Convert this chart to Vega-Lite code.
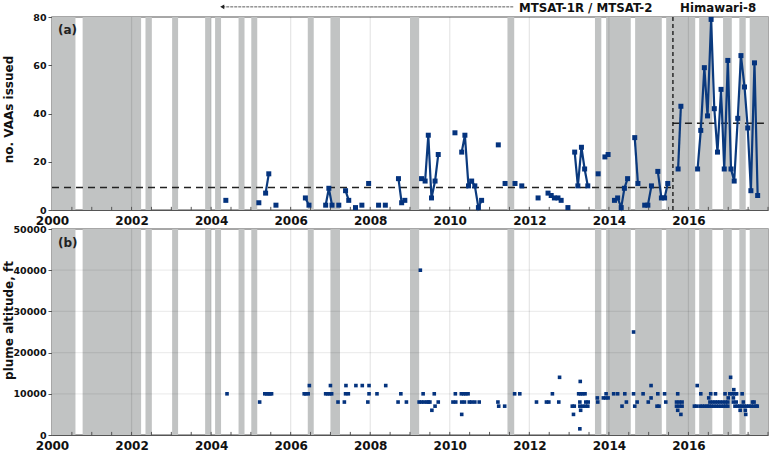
{
  "$schema": "https://vega.github.io/schema/vega-lite/v6.json",
  "background": "white",
  "padding": {"left": 1, "top": 2, "right": 2, "bottom": 0},
  "bounds": "flush",
  "spacing": 19,
  "config": {
    "font": "DejaVu Sans",
    "view": {"stroke": "#8a8a8a", "strokeWidth": 1.5},
    "axis": {
      "grid": false,
      "labelFont": "DejaVu Sans", "labelFontWeight": "bold", "labelColor": "#111", "labelFontSize": 9.5,
      "titleFont": "DejaVu Sans", "titleFontWeight": "bold", "titleColor": "#111", "titleFontSize": 12,
      "domainColor": "#555", "tickColor": "#555"
    }
  },
  "datasets": {
    "bands": [
      {"start": 2000.0, "end": 2000.59}, {"start": 2000.77, "end": 2002.24}, {"start": 2002.35, "end": 2002.51},
      {"start": 2003.02, "end": 2003.17}, {"start": 2003.85, "end": 2004.0}, {"start": 2004.1, "end": 2004.25},
      {"start": 2004.69, "end": 2004.84}, {"start": 2005.01, "end": 2005.16}, {"start": 2006.43, "end": 2006.58},
      {"start": 2007.0, "end": 2007.24}, {"start": 2009.0, "end": 2009.23}, {"start": 2011.45, "end": 2011.62},
      {"start": 2013.65, "end": 2013.81}, {"start": 2013.93, "end": 2014.55}, {"start": 2014.66, "end": 2015.33},
      {"start": 2015.44, "end": 2016.17}, {"start": 2016.27, "end": 2016.6}, {"start": 2016.87, "end": 2017.09},
      {"start": 2017.28, "end": 2017.44}, {"start": 2017.54, "end": 2018.0}
    ],
    "gridYears": [
      {"year": 2002}, {"year": 2004}, {"year": 2006}, {"year": 2008}, {"year": 2010}, {"year": 2012}, {"year": 2014}, {"year": 2016}
    ],
    "gridFt": [{"ft": 10000}, {"ft": 20000}, {"ft": 30000}, {"ft": 40000}],
    "tickYears": [
      {"year": 2000.5}, {"year": 2001}, {"year": 2001.5}, {"year": 2002}, {"year": 2002.5}, {"year": 2003}, {"year": 2003.5},
      {"year": 2004}, {"year": 2004.5}, {"year": 2005}, {"year": 2005.5}, {"year": 2006}, {"year": 2006.5}, {"year": 2007},
      {"year": 2007.5}, {"year": 2008}, {"year": 2008.5}, {"year": 2009}, {"year": 2009.5}, {"year": 2010}, {"year": 2010.5},
      {"year": 2011}, {"year": 2011.5}, {"year": 2012}, {"year": 2012.5}, {"year": 2013}, {"year": 2013.5}, {"year": 2014},
      {"year": 2014.5}, {"year": 2015}, {"year": 2015.5}, {"year": 2016}, {"year": 2016.5}, {"year": 2017}, {"year": 2017.5}, {"year": 2018}
    ],
    "vaas": [
      {"year": 2004.37, "vaas": 4, "seg": 1},
      {"year": 2005.2, "vaas": 3, "seg": 2},
      {"year": 2005.37, "vaas": 7, "seg": 3}, {"year": 2005.45, "vaas": 15, "seg": 3},
      {"year": 2005.63, "vaas": 2, "seg": 4},
      {"year": 2006.37, "vaas": 5, "seg": 5}, {"year": 2006.46, "vaas": 2, "seg": 5},
      {"year": 2006.88, "vaas": 2, "seg": 6}, {"year": 2006.96, "vaas": 9, "seg": 6}, {"year": 2007.04, "vaas": 2, "seg": 6},
      {"year": 2007.21, "vaas": 2, "seg": 7},
      {"year": 2007.38, "vaas": 8, "seg": 8}, {"year": 2007.46, "vaas": 4, "seg": 8},
      {"year": 2007.63, "vaas": 1, "seg": 9},
      {"year": 2007.79, "vaas": 2, "seg": 10},
      {"year": 2007.96, "vaas": 11, "seg": 11},
      {"year": 2008.21, "vaas": 2, "seg": 12},
      {"year": 2008.38, "vaas": 2, "seg": 13},
      {"year": 2008.71, "vaas": 13, "seg": 14}, {"year": 2008.79, "vaas": 3, "seg": 14}, {"year": 2008.87, "vaas": 4, "seg": 14},
      {"year": 2009.29, "vaas": 13, "seg": 15}, {"year": 2009.38, "vaas": 12, "seg": 15}, {"year": 2009.46, "vaas": 31, "seg": 15},
      {"year": 2009.54, "vaas": 5, "seg": 15}, {"year": 2009.63, "vaas": 12, "seg": 15}, {"year": 2009.71, "vaas": 23, "seg": 15},
      {"year": 2010.13, "vaas": 32, "seg": 16},
      {"year": 2010.3, "vaas": 24, "seg": 17}, {"year": 2010.38, "vaas": 31, "seg": 17}, {"year": 2010.47, "vaas": 10, "seg": 17},
      {"year": 2010.55, "vaas": 12, "seg": 17}, {"year": 2010.63, "vaas": 10, "seg": 17}, {"year": 2010.72, "vaas": 1, "seg": 17},
      {"year": 2010.8, "vaas": 4, "seg": 17},
      {"year": 2011.22, "vaas": 27, "seg": 18},
      {"year": 2011.39, "vaas": 11, "seg": 19},
      {"year": 2011.64, "vaas": 11, "seg": 20},
      {"year": 2011.81, "vaas": 10, "seg": 21},
      {"year": 2012.22, "vaas": 5, "seg": 22},
      {"year": 2012.47, "vaas": 7, "seg": 23}, {"year": 2012.55, "vaas": 6, "seg": 23}, {"year": 2012.63, "vaas": 5, "seg": 23},
      {"year": 2012.72, "vaas": 5, "seg": 23}, {"year": 2012.8, "vaas": 4, "seg": 23},
      {"year": 2012.97, "vaas": 1, "seg": 24},
      {"year": 2013.14, "vaas": 24, "seg": 25}, {"year": 2013.22, "vaas": 10, "seg": 25}, {"year": 2013.31, "vaas": 26, "seg": 25},
      {"year": 2013.39, "vaas": 17, "seg": 25}, {"year": 2013.47, "vaas": 10, "seg": 25},
      {"year": 2013.73, "vaas": 15, "seg": 26},
      {"year": 2013.9, "vaas": 22, "seg": 27}, {"year": 2013.98, "vaas": 23, "seg": 27},
      {"year": 2014.14, "vaas": 4, "seg": 28}, {"year": 2014.22, "vaas": 5, "seg": 28}, {"year": 2014.31, "vaas": 1, "seg": 28},
      {"year": 2014.39, "vaas": 9, "seg": 28}, {"year": 2014.47, "vaas": 13, "seg": 28},
      {"year": 2014.65, "vaas": 30, "seg": 29}, {"year": 2014.73, "vaas": 11, "seg": 29},
      {"year": 2014.9, "vaas": 2, "seg": 30}, {"year": 2014.98, "vaas": 2, "seg": 30}, {"year": 2015.07, "vaas": 10, "seg": 30},
      {"year": 2015.23, "vaas": 16, "seg": 31}, {"year": 2015.32, "vaas": 5, "seg": 31}, {"year": 2015.4, "vaas": 5, "seg": 31},
      {"year": 2015.48, "vaas": 11, "seg": 31},
      {"year": 2015.74, "vaas": 17, "seg": 32}, {"year": 2015.81, "vaas": 43, "seg": 32},
      {"year": 2016.23, "vaas": 17, "seg": 33}, {"year": 2016.31, "vaas": 33, "seg": 33}, {"year": 2016.4, "vaas": 59, "seg": 33},
      {"year": 2016.48, "vaas": 39, "seg": 33}, {"year": 2016.57, "vaas": 79, "seg": 33}, {"year": 2016.65, "vaas": 42, "seg": 33},
      {"year": 2016.73, "vaas": 24, "seg": 33}, {"year": 2016.82, "vaas": 50, "seg": 33}, {"year": 2016.9, "vaas": 17, "seg": 33},
      {"year": 2016.99, "vaas": 62, "seg": 33}, {"year": 2017.07, "vaas": 17, "seg": 33}, {"year": 2017.15, "vaas": 12, "seg": 33},
      {"year": 2017.24, "vaas": 38, "seg": 33}, {"year": 2017.32, "vaas": 64, "seg": 33}, {"year": 2017.41, "vaas": 51, "seg": 33},
      {"year": 2017.49, "vaas": 34, "seg": 33}, {"year": 2017.57, "vaas": 8, "seg": 33}, {"year": 2017.66, "vaas": 61, "seg": 33},
      {"year": 2017.74, "vaas": 6, "seg": 33}
    ],
    "means": [
      {"from": 2000, "to": 2015.61, "mean": 9.3},
      {"from": 2015.61, "to": 2018, "mean": 36}
    ],
    "switch": [{"year": 2015.61}],
    "sensors": [
      {"year": 2011.74, "label": "MTSAT-1R / MTSAT-2"},
      {"year": 2015.79, "label": "Himawari-8"}
    ],
    "arrow": [{"from": 2004.28, "to": 2011.61, "y": 84.2}],
    "plumes": [
      {"year": 2004.4, "ft": 10000}, {"year": 2005.22, "ft": 8000}, {"year": 2005.35, "ft": 10000}, {"year": 2005.4, "ft": 10000},
      {"year": 2005.44, "ft": 10000}, {"year": 2005.48, "ft": 10000}, {"year": 2005.52, "ft": 10000},
      {"year": 2006.34, "ft": 10000}, {"year": 2006.38, "ft": 10000}, {"year": 2006.44, "ft": 10000}, {"year": 2006.47, "ft": 12000},
      {"year": 2006.88, "ft": 10000}, {"year": 2006.93, "ft": 10000}, {"year": 2006.98, "ft": 10000}, {"year": 2007.03, "ft": 10000},
      {"year": 2007.0, "ft": 12000}, {"year": 2007.19, "ft": 8000}, {"year": 2007.35, "ft": 8000}, {"year": 2007.39, "ft": 12000},
      {"year": 2007.38, "ft": 10000}, {"year": 2007.45, "ft": 10000}, {"year": 2007.64, "ft": 12000}, {"year": 2007.8, "ft": 12000},
      {"year": 2007.94, "ft": 8000}, {"year": 2007.97, "ft": 12000}, {"year": 2007.97, "ft": 10000}, {"year": 2008.17, "ft": 10000},
      {"year": 2008.39, "ft": 12000}, {"year": 2008.7, "ft": 8000}, {"year": 2008.77, "ft": 10000}, {"year": 2008.91, "ft": 8000},
      {"year": 2009.26, "ft": 40000}, {"year": 2009.33, "ft": 10000}, {"year": 2009.23, "ft": 8000}, {"year": 2009.29, "ft": 8000},
      {"year": 2009.35, "ft": 8000}, {"year": 2009.42, "ft": 8000}, {"year": 2009.46, "ft": 8000}, {"year": 2009.5, "ft": 8000},
      {"year": 2009.55, "ft": 6000}, {"year": 2009.61, "ft": 10000}, {"year": 2009.63, "ft": 7000}, {"year": 2009.71, "ft": 8000},
      {"year": 2010.08, "ft": 8000}, {"year": 2010.15, "ft": 8000}, {"year": 2010.14, "ft": 10000}, {"year": 2010.29, "ft": 10000},
      {"year": 2010.35, "ft": 10000}, {"year": 2010.4, "ft": 10000}, {"year": 2010.46, "ft": 10000}, {"year": 2010.3, "ft": 5000},
      {"year": 2010.3, "ft": 8000}, {"year": 2010.37, "ft": 8000}, {"year": 2010.49, "ft": 8000}, {"year": 2010.55, "ft": 8000},
      {"year": 2010.63, "ft": 8000}, {"year": 2010.74, "ft": 8000}, {"year": 2011.21, "ft": 8000}, {"year": 2011.23, "ft": 7000},
      {"year": 2011.38, "ft": 7000}, {"year": 2011.63, "ft": 10000}, {"year": 2011.76, "ft": 10000}, {"year": 2012.18, "ft": 8000},
      {"year": 2012.43, "ft": 8000}, {"year": 2012.49, "ft": 8000}, {"year": 2012.58, "ft": 10000}, {"year": 2012.74, "ft": 8000},
      {"year": 2012.76, "ft": 14000}, {"year": 2013.08, "ft": 7000}, {"year": 2013.13, "ft": 7000}, {"year": 2013.11, "ft": 5000},
      {"year": 2013.27, "ft": 1500}, {"year": 2013.28, "ft": 13000}, {"year": 2013.24, "ft": 10000}, {"year": 2013.29, "ft": 10000},
      {"year": 2013.34, "ft": 10000}, {"year": 2013.4, "ft": 10000}, {"year": 2013.27, "ft": 8000}, {"year": 2013.42, "ft": 8000},
      {"year": 2013.48, "ft": 8000}, {"year": 2013.27, "ft": 7000}, {"year": 2013.34, "ft": 7000}, {"year": 2013.41, "ft": 7000},
      {"year": 2013.47, "ft": 7000}, {"year": 2013.29, "ft": 6000}, {"year": 2013.71, "ft": 9000}, {"year": 2013.72, "ft": 8000},
      {"year": 2013.86, "ft": 9000}, {"year": 2013.92, "ft": 9000}, {"year": 2013.98, "ft": 9000}, {"year": 2013.93, "ft": 10000},
      {"year": 2014.12, "ft": 10000}, {"year": 2014.22, "ft": 10000}, {"year": 2014.33, "ft": 7000}, {"year": 2014.4, "ft": 10000},
      {"year": 2014.44, "ft": 8000}, {"year": 2014.62, "ft": 25000}, {"year": 2014.62, "ft": 10000}, {"year": 2014.65, "ft": 7000},
      {"year": 2014.71, "ft": 8000}, {"year": 2014.86, "ft": 10000}, {"year": 2014.99, "ft": 8000}, {"year": 2015.06, "ft": 9000},
      {"year": 2015.06, "ft": 12000}, {"year": 2015.23, "ft": 10000}, {"year": 2015.21, "ft": 7000}, {"year": 2015.26, "ft": 7000},
      {"year": 2015.4, "ft": 10000}, {"year": 2015.43, "ft": 8000}, {"year": 2015.73, "ft": 10000}, {"year": 2015.7, "ft": 8000},
      {"year": 2015.77, "ft": 8000}, {"year": 2015.84, "ft": 8000}, {"year": 2015.7, "ft": 7000}, {"year": 2015.77, "ft": 7000},
      {"year": 2015.84, "ft": 7000}, {"year": 2015.73, "ft": 6000}, {"year": 2015.81, "ft": 5000}, {"year": 2016.15, "ft": 7000},
      {"year": 2016.2, "ft": 7000}, {"year": 2016.22, "ft": 12000}, {"year": 2016.31, "ft": 10000},
      {"year": 2016.29, "ft": 7000}, {"year": 2016.35, "ft": 7000}, {"year": 2016.41, "ft": 7000}, {"year": 2016.47, "ft": 7000},
      {"year": 2016.52, "ft": 7000}, {"year": 2016.58, "ft": 7000}, {"year": 2016.64, "ft": 7000}, {"year": 2016.7, "ft": 7000},
      {"year": 2016.76, "ft": 7000}, {"year": 2016.82, "ft": 7000}, {"year": 2016.88, "ft": 7000}, {"year": 2016.94, "ft": 7000},
      {"year": 2016.99, "ft": 7000}, {"year": 2016.51, "ft": 9000}, {"year": 2016.56, "ft": 10000}, {"year": 2016.54, "ft": 8000},
      {"year": 2016.61, "ft": 8000}, {"year": 2016.67, "ft": 8000}, {"year": 2016.68, "ft": 10000}, {"year": 2016.73, "ft": 8000},
      {"year": 2016.79, "ft": 8000}, {"year": 2016.86, "ft": 8000}, {"year": 2016.93, "ft": 8000}, {"year": 2016.99, "ft": 8000},
      {"year": 2016.92, "ft": 10000}, {"year": 2017.06, "ft": 14000}, {"year": 2017.0, "ft": 9000}, {"year": 2017.04, "ft": 10000},
      {"year": 2017.1, "ft": 10000}, {"year": 2017.16, "ft": 10000}, {"year": 2017.21, "ft": 10000}, {"year": 2017.14, "ft": 11000},
      {"year": 2017.13, "ft": 9000}, {"year": 2017.13, "ft": 8000}, {"year": 2017.2, "ft": 8000},
      {"year": 2017.17, "ft": 7000}, {"year": 2017.23, "ft": 7000}, {"year": 2017.29, "ft": 7000}, {"year": 2017.35, "ft": 7000},
      {"year": 2017.4, "ft": 7000}, {"year": 2017.46, "ft": 7000}, {"year": 2017.52, "ft": 7000}, {"year": 2017.58, "ft": 7000},
      {"year": 2017.64, "ft": 7000}, {"year": 2017.7, "ft": 7000}, {"year": 2017.73, "ft": 7000},
      {"year": 2017.3, "ft": 6000}, {"year": 2017.35, "ft": 10000}, {"year": 2017.38, "ft": 8000}, {"year": 2017.43, "ft": 6000},
      {"year": 2017.44, "ft": 5000}, {"year": 2017.61, "ft": 8000}, {"year": 2017.65, "ft": 8000}
    ]
  },
  "vconcat": [
    {
      "width": 716,
      "height": 193,
      "layer": [
        {
          "data": {"name": "bands"},
          "mark": {"type": "rect", "color": "#c1c3c3"},
          "encoding": {
            "x": {
              "field": "start", "type": "quantitative",
              "scale": {"domain": [2000, 2018], "nice": false},
              "axis": {
                "title": null, "labelFontSize": 12, "labelPadding": 3, "tickSize": 2, "tickOpacity": 0, "labelFlush": false,
                "values": [2000, 2002, 2004, 2006, 2008, 2010, 2012, 2014, 2016],
                "format": "d"
              }
            },
            "x2": {"field": "end"},
            "y": {"datum": 0, "type": "quantitative",
              "scale": {"domain": [0, 80], "nice": false},
              "axis": {"title": "no. VAAs issued", "values": [0, 20, 40, 60, 80], "tickSize": 4, "labelPadding": 2, "labelFlush": false, "titleX": -37, "titleY": 92}
            },
            "y2": {"datum": 80}
          }
        },
        {
          "data": {"name": "gridYears"},
          "mark": {"type": "rule", "color": "#000", "opacity": 0.1, "strokeWidth": 1.2},
          "encoding": {
            "x": {"field": "year", "type": "quantitative"},
            "y": {"datum": 0, "type": "quantitative"},
            "y2": {"datum": 80}
          }
        },
        {
          "data": {"name": "tickYears"},
          "mark": {"type": "rule", "color": "#555", "strokeWidth": 1},
          "encoding": {
            "x": {"field": "year", "type": "quantitative"},
            "y": {"datum": 0, "type": "quantitative"},
            "y2": {"datum": 1.3}
          }
        },
        {
          "data": {"name": "means"},
          "mark": {"type": "rule", "color": "#222", "strokeWidth": 1.5, "strokeDash": [7, 5]},
          "encoding": {
            "x": {"field": "from", "type": "quantitative"},
            "x2": {"field": "to"},
            "y": {"field": "mean", "type": "quantitative"}
          }
        },
        {
          "data": {"name": "switch"},
          "mark": {"type": "rule", "color": "#111", "strokeWidth": 1.3, "strokeDash": [4, 3]},
          "encoding": {
            "x": {"field": "year", "type": "quantitative"},
            "y": {"datum": 0, "type": "quantitative"},
            "y2": {"datum": 80}
          }
        },
        {
          "data": {"name": "vaas"},
          "mark": {"type": "line", "color": "#0b3a7e", "strokeWidth": 2.2},
          "encoding": {
            "x": {"field": "year", "type": "quantitative"},
            "y": {"field": "vaas", "type": "quantitative"},
            "detail": {"field": "seg"}
          }
        },
        {
          "data": {"name": "vaas"},
          "mark": {"type": "point", "shape": "square", "filled": true, "color": "#04337e", "opacity": 1, "size": 25},
          "encoding": {
            "x": {"field": "year", "type": "quantitative"},
            "y": {"field": "vaas", "type": "quantitative"}
          }
        },
        {
          "data": {"values": [{"year": 2000.15, "y": 74.5, "label": "(a)"}]},
          "mark": {"type": "text", "align": "left", "baseline": "middle", "fontWeight": "bold", "fontSize": 12, "font": "DejaVu Sans", "color": "#222"},
          "encoding": {
            "x": {"field": "year", "type": "quantitative"},
            "y": {"field": "y", "type": "quantitative"},
            "text": {"field": "label"}
          }
        },
        {
          "data": {"name": "arrow"},
          "mark": {"type": "rule", "color": "#333", "strokeWidth": 0.8, "strokeDash": [3, 1]},
          "encoding": {
            "x": {"field": "from", "type": "quantitative"},
            "x2": {"field": "to"},
            "y": {"field": "y", "type": "quantitative"}
          }
        },
        {
          "data": {"name": "arrow"},
          "mark": {"type": "point", "shape": "triangle-left", "filled": true, "color": "#222", "opacity": 1, "size": 22},
          "encoding": {
            "x": {"field": "from", "type": "quantitative"},
            "y": {"field": "y", "type": "quantitative"}
          }
        },
        {
          "data": {"name": "sensors"},
          "mark": {"type": "text", "align": "left", "baseline": "middle", "fontWeight": "bold", "fontSize": 11.8, "font": "DejaVu Sans", "color": "#111", "y": -9},
          "encoding": {
            "x": {"field": "year", "type": "quantitative"},
            "text": {"field": "label"}
          }
        }
      ]
    },
    {
      "width": 716,
      "height": 206,
      "layer": [
        {
          "data": {"name": "bands"},
          "mark": {"type": "rect", "color": "#c1c3c3"},
          "encoding": {
            "x": {
              "field": "start", "type": "quantitative",
              "scale": {"domain": [2000, 2018], "nice": false},
              "axis": {
                "title": null, "labelFontSize": 12, "labelPadding": 3, "tickSize": 2, "tickOpacity": 0, "labelFlush": false,
                "values": [2000, 2002, 2004, 2006, 2008, 2010, 2012, 2014, 2016],
                "format": "d"
              }
            },
            "x2": {"field": "end"},
            "y": {"datum": 0, "type": "quantitative",
              "scale": {"domain": [0, 50000], "nice": false},
              "axis": {"title": "plume altitude, ft", "values": [0, 10000, 20000, 30000, 40000, 50000], "format": "d", "tickSize": 4, "labelPadding": 2, "labelFlush": false, "titleX": -37, "titleY": 91}
            },
            "y2": {"datum": 50000}
          }
        },
        {
          "data": {"name": "gridYears"},
          "mark": {"type": "rule", "color": "#000", "opacity": 0.1, "strokeWidth": 1.2},
          "encoding": {
            "x": {"field": "year", "type": "quantitative"},
            "y": {"datum": 0, "type": "quantitative"},
            "y2": {"datum": 50000}
          }
        },
        {
          "data": {"name": "gridFt"},
          "mark": {"type": "rule", "color": "#000", "opacity": 0.07, "strokeWidth": 1.2},
          "encoding": {
            "y": {"field": "ft", "type": "quantitative"}
          }
        },
        {
          "data": {"name": "tickYears"},
          "mark": {"type": "rule", "color": "#555", "strokeWidth": 1},
          "encoding": {
            "x": {"field": "year", "type": "quantitative"},
            "y": {"datum": 0, "type": "quantitative"},
            "y2": {"datum": 750}
          }
        },
        {
          "data": {"name": "plumes"},
          "mark": {"type": "point", "shape": "square", "filled": true, "color": "#04337e", "opacity": 1, "size": 13},
          "encoding": {
            "x": {"field": "year", "type": "quantitative"},
            "y": {"field": "ft", "type": "quantitative"}
          }
        },
        {
          "data": {"values": [{"year": 2000.15, "y": 46500, "label": "(b)"}]},
          "mark": {"type": "text", "align": "left", "baseline": "middle", "fontWeight": "bold", "fontSize": 12, "font": "DejaVu Sans", "color": "#222"},
          "encoding": {
            "x": {"field": "year", "type": "quantitative"},
            "y": {"field": "y", "type": "quantitative"},
            "text": {"field": "label"}
          }
        }
      ]
    }
  ]
}
